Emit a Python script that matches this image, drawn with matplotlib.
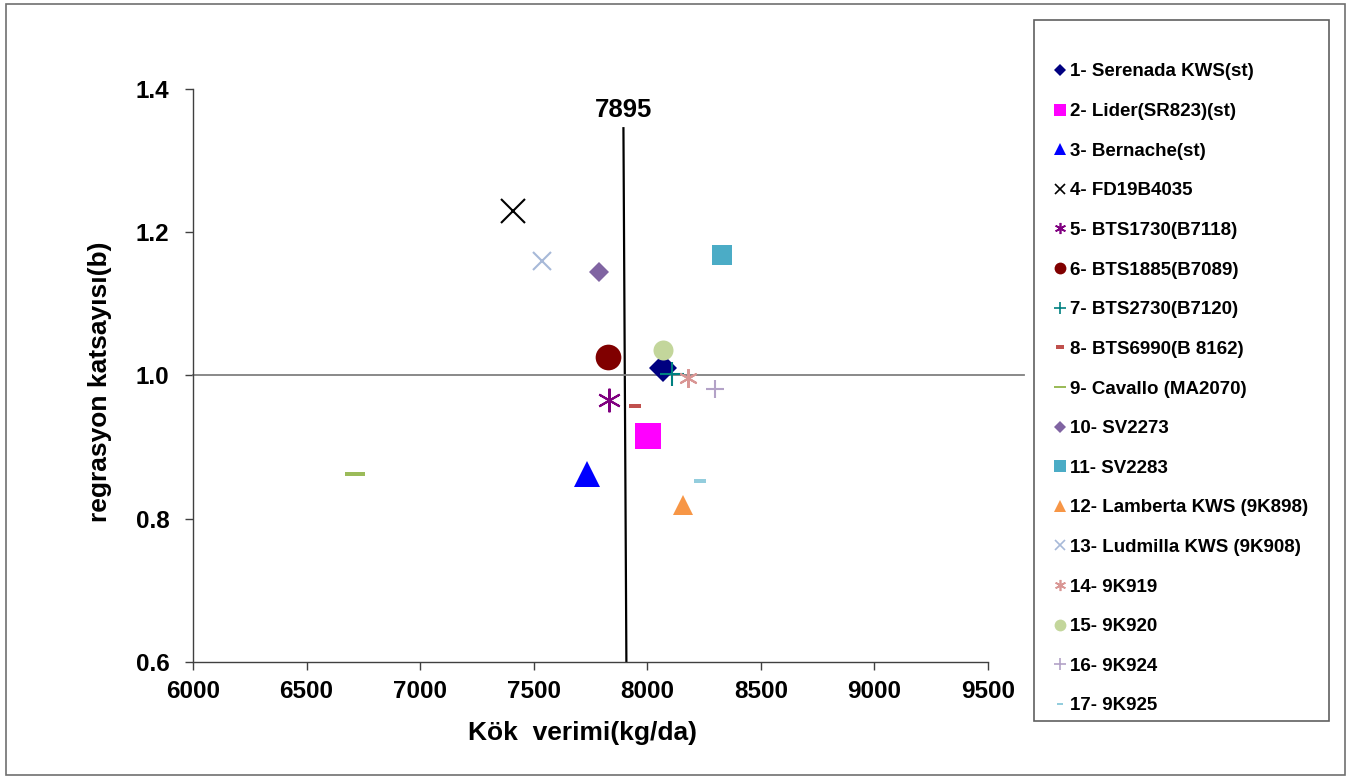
import matplotlib
matplotlib.use("Agg")
import matplotlib.pyplot as plt
from matplotlib.lines import Line2D
from matplotlib.patches import Rectangle

plt.rcParams['font.family'] = ['Liberation Sans', 'DejaVu Sans']
plt.rcParams['font.weight'] = 'bold'

# data
cesitler = [
    "1- Serenada KWS(st)", "2- Lider(SR823)(st)", "3- Bernache(st)", "4- FD19B4035",
    "5- BTS1730(B7118)", "6- BTS1885(B7089)", "7- BTS2730(B7120)", "8- BTS6990(B 8162)",
    "9- Cavallo (MA2070)", "10- SV2273", "11- SV2283", "12- Lamberta KWS (9K898)",
    "13- Ludmilla KWS (9K908)", "14- 9K919", "15- 9K920", "16- 9K924", "17- 9K925",
]
kok_verimi = [8069, 8002, 7733, 7410, 7833, 7828, 8110, 7947, 6712,
              7789, 8328, 8156, 7538, 8181, 8069, 8298, 8233]
regresyon_b = [1.011, 0.915, 0.862, 1.229, 0.965, 1.026, 1.002, 0.957, 0.862,
               1.145, 1.168, 0.819, 1.159, 0.997, 1.036, 0.981, 0.852]
ortalama_verim = 7895
x_ticks = [6000, 6500, 7000, 7500, 8000, 8500, 9000, 9500]
y_ticks = [0.6, 0.8, 1.0, 1.2, 1.4]

DASH = [(-1, -0.22), (1, -0.22), (1, 0.22), (-1, 0.22), (-1, -0.22)]
DASH_S = [(-1, -0.42), (1, -0.42), (1, 0.42), (-1, 0.42), (-1, -0.42)]
ASTER = (6, 2, 0)

# marker, colour, size on plot, size in legend, filled
styles = [
    ("D", "#000080", 14.3, 5.8, True),
    ("s", "#FF00FF", 18.5, 8.5, True),
    ("^", "#0000FF", 18.5, 8.5, True),
    ("x", "#000000", 17.0, 7.5, False),
    (ASTER, "#800080", 17.0, 8.0, False),
    ("o", "#800000", 18.5, 8.5, True),
    ("+", "#008080", 17.5, 8.0, False),
    (DASH_S, "#C0504D", 8.0, 5.5, True),
    (DASH, "#9BBB59", 15.0, 8.5, True),
    ("D", "#8064A2", 10.2, 5.8, True),
    ("s", "#4BACC6", 14.4, 8.5, True),
    ("^", "#F79646", 14.4, 8.5, True),
    ("x", "#A7B9D8", 13.5, 7.5, False),
    (ASTER, "#D99694", 13.5, 8.0, False),
    ("o", "#C3D69B", 14.4, 8.5, True),
    ("+", "#B3A2C7", 13.5, 8.0, False),
    (DASH_S, "#93CDDD", 8.0, 5.0, True),
]

W, H = 1360, 778
fig = plt.figure(figsize=(W / 100, H / 100), dpi=100)
ax = fig.add_axes([193 / W, 1 - 662 / H, (988 - 193) / W, (662 - 88.8) / H])

handles = []
for i, (m, c, ms, lms, filled) in enumerate(styles):
    kw = dict(mew=0) if filled else dict(mew=1.5)
    ax.plot(kok_verimi[i], regresyon_b[i], linestyle="none", marker=m, color=c,
            ms=ms, zorder=3, **kw)
    handles.append(Line2D([], [], linestyle="none", marker=m, color=c, ms=lms,
                          **(dict(mew=0) if filled else dict(mew=1.2))))

# mean lines
ax.plot([ortalama_verim, 7908], [1.345, 0.6], color="black", lw=1.6, zorder=2)
ax.text(ortalama_verim, 1.37, str(ortalama_verim), ha="center", va="center",
        fontsize=18.5, fontweight="bold")
ax.plot([6000, 9658], [1.0, 1.0], color="#808080", lw=1.3, clip_on=False, zorder=2)

ax.set_xlim(6000, 9500)
ax.set_ylim(0.6, 1.4)
ax.set_xticks(x_ticks)
ax.set_xticklabels([str(v) for v in x_ticks], fontsize=17.5, fontweight="bold")
ax.set_yticks(y_ticks)
ax.set_yticklabels([f"{v:.1f}" for v in y_ticks], fontsize=17.5, fontweight="bold")
ax.tick_params(axis="x", direction="out", length=6, width=1, color="#404040", pad=7)
ax.tick_params(axis="y", direction="out", length=6, width=1, color="#404040", pad=11)
for s in ["top", "right"]:
    ax.spines[s].set_visible(False)
for s in ["left", "bottom"]:
    ax.spines[s].set_color("#404040")
    ax.spines[s].set_linewidth(1.0)

ax.set_xlabel("Kök  verimi(kg/da)", fontsize=19, fontweight="bold")
ax.xaxis.set_label_coords(0.49, -0.103)
ax.set_ylabel("regrasyon katsayısı(b)", fontsize=19, fontweight="bold")
ax.yaxis.set_label_coords(-0.102, 0.4885)

# legend box
fig.patches.append(Rectangle((1034 / W, 1 - 721 / H), (1329 - 1034) / W, (721 - 20) / H,
                             transform=fig.transFigure, fill=False,
                             edgecolor="#606060", lw=1.2))
fig.legend(handles, cesitler, loc="upper left", bbox_to_anchor=(1041 / W, 1 - 54 / H),
           frameon=False, borderpad=0, prop={"weight": "bold", "size": 13.5},
           handlelength=1.0, handletextpad=0.05, labelspacing=1.2)

# outer border
fig.patches.append(Rectangle((6 / W, 3 / H), (1345 - 6) / W, (774 - 3) / H,
                             transform=fig.transFigure, fill=False,
                             edgecolor="#707070", lw=1.2))

fig.savefig("out.png", dpi=100)
